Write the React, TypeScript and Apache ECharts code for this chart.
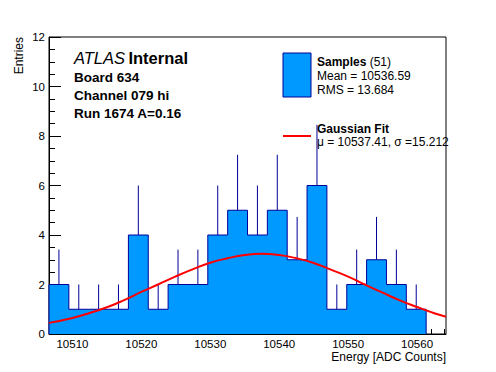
import React, { useEffect, useRef } from "react";
import * as echarts from "echarts";

// Histogram binning (bin edges, ADC counts) and contents
const binEdges = [
  10506.6, 10509.48, 10512.36, 10515.24, 10518.12, 10521.0, 10523.88, 10526.76,
  10529.64, 10532.52, 10535.4, 10538.28, 10541.16, 10544.04, 10546.92, 10549.8,
  10552.68, 10555.56, 10558.44, 10561.32,
];
const binCounts = [2, 1, 1, 1, 4, 1, 2, 2, 4, 5, 4, 5, 3, 6, 1, 2, 3, 2, 1];
// upper error bar lengths
const binErrors = [1.41, 1, 1, 1, 2, 1, 1.41, 1.41, 2, 2.24, 2, 2.24, 1.73, 2.45, 1, 1.41, 1.73, 1.41, 1];

// Gaussian fit curve
const fitX = [
  10506.6, 10510, 10512.5, 10515, 10517.5, 10520, 10522.5, 10525, 10527.5, 10530,
  10532.5, 10535, 10537.5, 10540, 10542.5, 10545, 10547.5, 10550, 10552.5, 10555,
  10557.5, 10560, 10562.5, 10564.2,
];
const fitY = [
  0.45, 0.65, 0.85, 1.08, 1.37, 1.7, 2.01, 2.33, 2.62, 2.88, 3.06, 3.19, 3.24, 3.19,
  3.06, 2.87, 2.6, 2.32, 1.99, 1.67, 1.36, 1.09, 0.84, 0.7,
];

const xMajorTicks = [10510, 10520, 10530, 10540, 10550, 10560];
const xMinorTicks = [
  10508, 10512, 10514, 10516, 10518, 10522, 10524, 10526, 10528, 10532, 10534, 10536,
  10538, 10542, 10544, 10546, 10548, 10552, 10554, 10556, 10558, 10562, 10564,
];

const X_MIN = 10506.6;
const X_MAX = 10564.2;

const FONT = "'Liberation Sans', Arial, Helvetica, sans-serif";
const FILL = "#0099ff";
const EDGE = "#000099";

export default function App() {
  const ref = useRef<HTMLDivElement>(null);

  useEffect(() => {
    if (!ref.current) return;
    const chart = echarts.init(ref.current, undefined, { renderer: "svg" });

    const outline: number[][] = [[binEdges[0], 0]];
    binCounts.forEach((c, i) => {
      outline.push([binEdges[i], c]);
      outline.push([binEdges[i + 1], c]);
    });
    outline.push([binEdges[binEdges.length - 1], 0]);

    const errData = binCounts.map((c, i) => [
      (binEdges[i] + binEdges[i + 1]) / 2,
      c,
      c + binErrors[i],
    ]);

    const fitData = fitX.map((x, i) => [x, fitY[i]]);

    const xBase = {
      type: "value",
      min: X_MIN,
      max: X_MAX,
      position: "bottom",
      splitLine: { show: false },
    };

    chart.setOption({
      animation: false,
      grid: {
        left: 49,
        right: 50,
        top: 37,
        bottom: 38,
        show: true,
        borderColor: "#000",
        borderWidth: 1,
        backgroundColor: "transparent",
        containLabel: false,
      },
      xAxis: [
        {
          ...xBase,
          axisLine: { show: true, onZero: false, lineStyle: { color: "#000", width: 1 } },
          axisTick: {
            show: true,
            inside: true,
            length: 10,
            customValues: xMajorTicks,
            lineStyle: { color: "#000" },
          },
          axisLabel: {
            show: true,
            customValues: xMajorTicks,
            color: "#000",
            fontFamily: FONT,
            fontSize: 11.5,
            margin: 4,
            lineHeight: 12,
            formatter: (v: number) => String(Math.round(v)),
          },
        },
        {
          ...xBase,
          axisLine: { show: false },
          axisTick: {
            show: true,
            inside: true,
            length: 5,
            customValues: xMinorTicks,
            lineStyle: { color: "#000" },
          },
          axisLabel: { show: false },
        },
      ],
      yAxis: {
        type: "value",
        min: 0,
        max: 12,
        interval: 2,
        splitLine: { show: false },
        axisLine: { show: true, onZero: false, lineStyle: { color: "#000", width: 1 } },
        axisTick: { show: true, inside: true, length: 12, lineStyle: { color: "#000" } },
        minorTick: { show: true, splitNumber: 4, length: 6, lineStyle: { color: "#000" } },
        axisLabel: { color: "#000", fontFamily: FONT, fontSize: 11.5, margin: 4 },
      },
      series: [
        {
          type: "line",
          data: outline,
          symbol: "none",
          lineStyle: { color: EDGE, width: 1 },
          areaStyle: { color: FILL, opacity: 1 },
          z: 2,
        },
        {
          type: "custom",
          data: errData,
          encode: { x: 0, y: [1, 2] },
          z: 3,
          renderItem: (params: any, api: any) => {
            const p0 = api.coord([api.value(0), api.value(1)]);
            const p1 = api.coord([api.value(0), api.value(2)]);
            return {
              type: "line",
              shape: { x1: p0[0], y1: p0[1], x2: p1[0], y2: p1[1] },
              style: { stroke: EDGE, lineWidth: 1 },
            };
          },
        },
        {
          type: "line",
          data: fitData,
          symbol: "none",
          smooth: true,
          lineStyle: { color: "#ff0000", width: 2 },
          z: 4,
        },
      ],
      graphic: [
        {
          type: "text",
          x: 446,
          y: 357,
          style: {
            text: "Energy [ADC Counts]",
            font: `12px ${FONT}`,
            fill: "#000",
            textAlign: "right",
            textVerticalAlign: "middle",
          },
        },
        {
          type: "text",
          x: 19,
          y: 37,
          rotation: Math.PI / 2,
          style: {
            text: "Entries",
            font: `12px ${FONT}`,
            fill: "#000",
            textAlign: "right",
            textVerticalAlign: "middle",
          },
        },
        {
          type: "text",
          x: 74,
          y: 58,
          style: {
            text: "{i|ATLAS} {b|Internal}",
            textVerticalAlign: "middle",
            rich: {
              i: { fontFamily: FONT, fontSize: 16.5, fontStyle: "italic", fill: "#000" },
              b: { fontFamily: FONT, fontSize: 16.5, fontWeight: "bold", fill: "#000" },
            },
          },
        },
        ...["Board 634", "Channel 079 hi", "Run 1674 A=0.16"].map((t, i) => ({
          type: "text",
          x: 74,
          y: 77.5 + i * 18,
          style: {
            text: t,
            font: `bold 13.5px ${FONT}`,
            fill: "#000",
            textVerticalAlign: "middle",
          },
        })),
        {
          type: "rect",
          shape: { x: 283, y: 53, width: 28, height: 44 },
          style: { fill: FILL, stroke: EDGE, lineWidth: 1 },
        },
        {
          type: "text",
          x: 317,
          y: 62,
          style: {
            text: "{b|Samples} {n|(51)}",
            textVerticalAlign: "middle",
            rich: {
              b: { fontFamily: FONT, fontSize: 12, fontWeight: "bold", fill: "#000" },
              n: { fontFamily: FONT, fontSize: 12, fill: "#000" },
            },
          },
        },
        {
          type: "text",
          x: 317,
          y: 76,
          style: { text: "Mean = 10536.59", font: `12px ${FONT}`, fill: "#000", textVerticalAlign: "middle" },
        },
        {
          type: "text",
          x: 317,
          y: 90,
          style: { text: "RMS = 13.684", font: `12px ${FONT}`, fill: "#000", textVerticalAlign: "middle" },
        },
        {
          type: "line",
          shape: { x1: 283, y1: 136, x2: 311, y2: 136 },
          style: { stroke: "#ff0000", lineWidth: 2 },
        },
        {
          type: "text",
          x: 317,
          y: 129,
          style: { text: "Gaussian Fit", font: `bold 12px ${FONT}`, fill: "#000", textVerticalAlign: "middle" },
        },
        {
          type: "text",
          x: 317,
          y: 142,
          style: {
            text: "\u03bc = 10537.41, \u03c3 =15.212",
            font: `12px ${FONT}`,
            fill: "#000",
            textVerticalAlign: "middle",
          },
        },
      ],
    });

    return () => chart.dispose();
  }, []);

  return <div ref={ref} style={{ width: 496, height: 372, position: "absolute", left: 0, top: 0 }} />;
}
